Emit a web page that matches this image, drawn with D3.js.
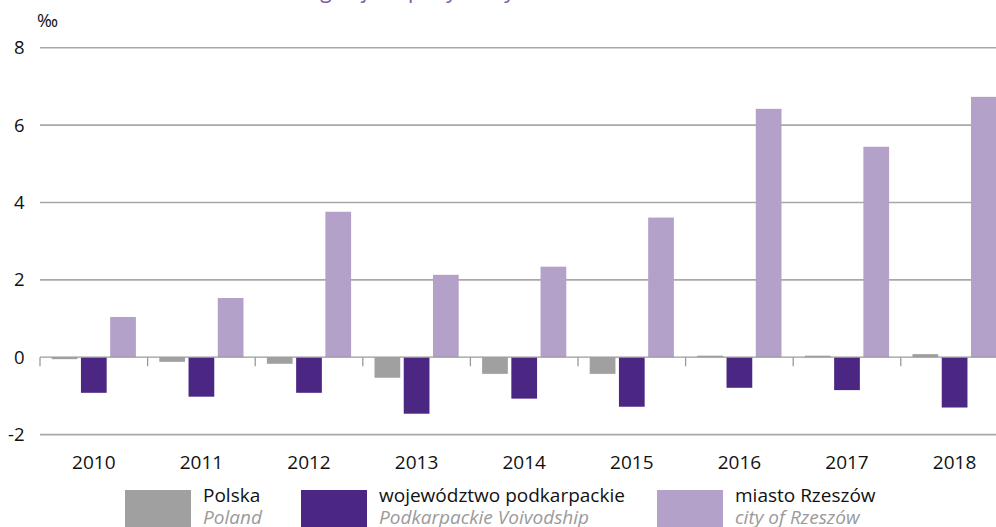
<!DOCTYPE html>
<html>
<head>
<meta charset="utf-8">
<script src="https://cdn.jsdelivr.net/npm/d3@7"></script>
<style>
  body { margin: 0; background: #fff; }
  svg { display: block; font-family: "Open Sans", sans-serif; }
</style>
</head>
<body>
<div id="chart"></div>
<script>
var years = ["2010", "2011", "2012", "2013", "2014", "2015", "2016", "2017", "2018"];
var seriesNames = ["polska", "podkarpackie", "rzeszow"];
var polska = [-0.05, -0.12, -0.17, -0.53, -0.43, -0.43, 0.04, 0.04, 0.08];
var podkarpackie = [-0.92, -1.02, -0.92, -1.46, -1.07, -1.28, -0.79, -0.85, -1.30];
var rzeszow = [1.04, 1.53, 3.76, 2.13, 2.34, 3.61, 6.42, 5.44, 6.73];
var yTicks = [-2, 0, 2, 4, 6, 8];
var legendPl = ["Polska", "województwo podkarpackie", "miasto Rzeszów"];
var legendEn = ["Poland", "Podkarpackie Voivodship", "city of Rzeszów"];

var colors = { polska: "#a0a0a0", podkarpackie: "#4b2683", rzeszow: "#b3a1c9" };
var values = { polska: polska, podkarpackie: podkarpackie, rzeszow: rzeszow };

var graphD = { width: 996, height: 527, left: 40, right: 1008.4, top: 47.7, bottom: 434.6 };

var svg = d3.select("#chart")
            .append("svg")
            .attr("width", graphD.width)
            .attr("height", graphD.height);

var x0 = d3.scaleBand().domain(years).range([graphD.left, graphD.right]).padding(0);
var x1 = d3.scaleBand().domain(seriesNames).range([11.7, 95.9]).paddingInner(0.12);
var y = d3.scaleLinear().domain([-2, 8]).range([graphD.bottom, graphD.top]);

// title (cut off at the top of the picture, only descenders show)
svg.append("text")
   .attr("x", 560).attr("y", -2.5)
   .attr("text-anchor", "middle")
   .attr("font-size", 21)
   .attr("fill", "#7b5aa6")
   .text("Saldo migracji na pobyt stały na 1000 ludności w latach 2010–2018");

svg.append("text")
   .attr("x", 37).attr("y", 27)
   .attr("font-size", 18)
   .attr("fill", "#111")
   .text("‰");

// gridlines
svg.append("g").selectAll("line")
   .data(yTicks.filter(function(d){ return d != 0; }))
   .enter().append("line")
   .attr("x1", graphD.left).attr("x2", graphD.width)
   .attr("y1", function(d){ return y(d); })
   .attr("y2", function(d){ return y(d); })
   .attr("stroke", "#a8a8a8")
   .attr("stroke-width", 1.6);

// y labels
svg.append("g").selectAll("text")
   .data(yTicks)
   .enter().append("text")
   .attr("x", 24.5)
   .attr("y", function(d){ return y(d); })
   .attr("dy", "0.35em")
   .attr("text-anchor", "end")
   .attr("font-size", 18.5)
   .attr("fill", "#111")
   .text(function(d){ return d; });

// bars
var groups = svg.append("g").selectAll("g")
   .data(years)
   .enter().append("g")
   .attr("transform", function(d){ return "translate(" + x0(d) + ",0)"; });

groups.selectAll("rect")
   .data(function(d, i){ return seriesNames.map(function(s){ return { key: s, value: values[s][i] }; }); })
   .enter().append("rect")
   .attr("x", function(d){ return x1(d.key); })
   .attr("width", x1.bandwidth())
   .attr("y", function(d){ return y(Math.max(0, d.value)); })
   .attr("height", function(d){ return Math.abs(y(d.value) - y(0)); })
   .attr("fill", function(d){ return colors[d.key]; });

// zero axis with category ticks
svg.append("line")
   .attr("x1", graphD.left).attr("x2", graphD.width)
   .attr("y1", y(0)).attr("y2", y(0))
   .attr("stroke", "#9a9a9a").attr("stroke-width", 1.3);

svg.append("g").selectAll("line")
   .data(years.concat(["end"]))
   .enter().append("line")
   .attr("x1", function(d, i){ return graphD.left + i * x0.step(); })
   .attr("x2", function(d, i){ return graphD.left + i * x0.step(); })
   .attr("y1", y(0)).attr("y2", y(0) + 9)
   .attr("stroke", "#9a9a9a").attr("stroke-width", 1.3);

// year labels
svg.append("g").selectAll("text")
   .data(years)
   .enter().append("text")
   .attr("x", function(d){ return x0(d) + x0.bandwidth() / 2; })
   .attr("y", 469)
   .attr("text-anchor", "middle")
   .attr("font-size", 19)
   .attr("fill", "#111")
   .text(function(d){ return d; });

// legend
var legendX = [125, 301, 657];
var legend = svg.append("g").selectAll("g")
   .data(seriesNames)
   .enter().append("g")
   .attr("transform", function(d, i){ return "translate(" + legendX[i] + ",0)"; });

legend.append("rect")
   .attr("x", 0).attr("y", 490)
   .attr("width", 66).attr("height", 40)
   .attr("fill", function(d){ return colors[d]; });

legend.append("text")
   .attr("x", 78).attr("y", 502)
   .attr("font-size", 19)
   .attr("fill", "#111")
   .text(function(d, i){ return legendPl[i]; });

legend.append("text")
   .attr("x", 78).attr("y", 524)
   .attr("font-size", 19)
   .attr("font-style", "italic")
   .attr("fill", "#9a9a9a")
   .text(function(d, i){ return legendEn[i]; });
</script>
</body>
</html>
